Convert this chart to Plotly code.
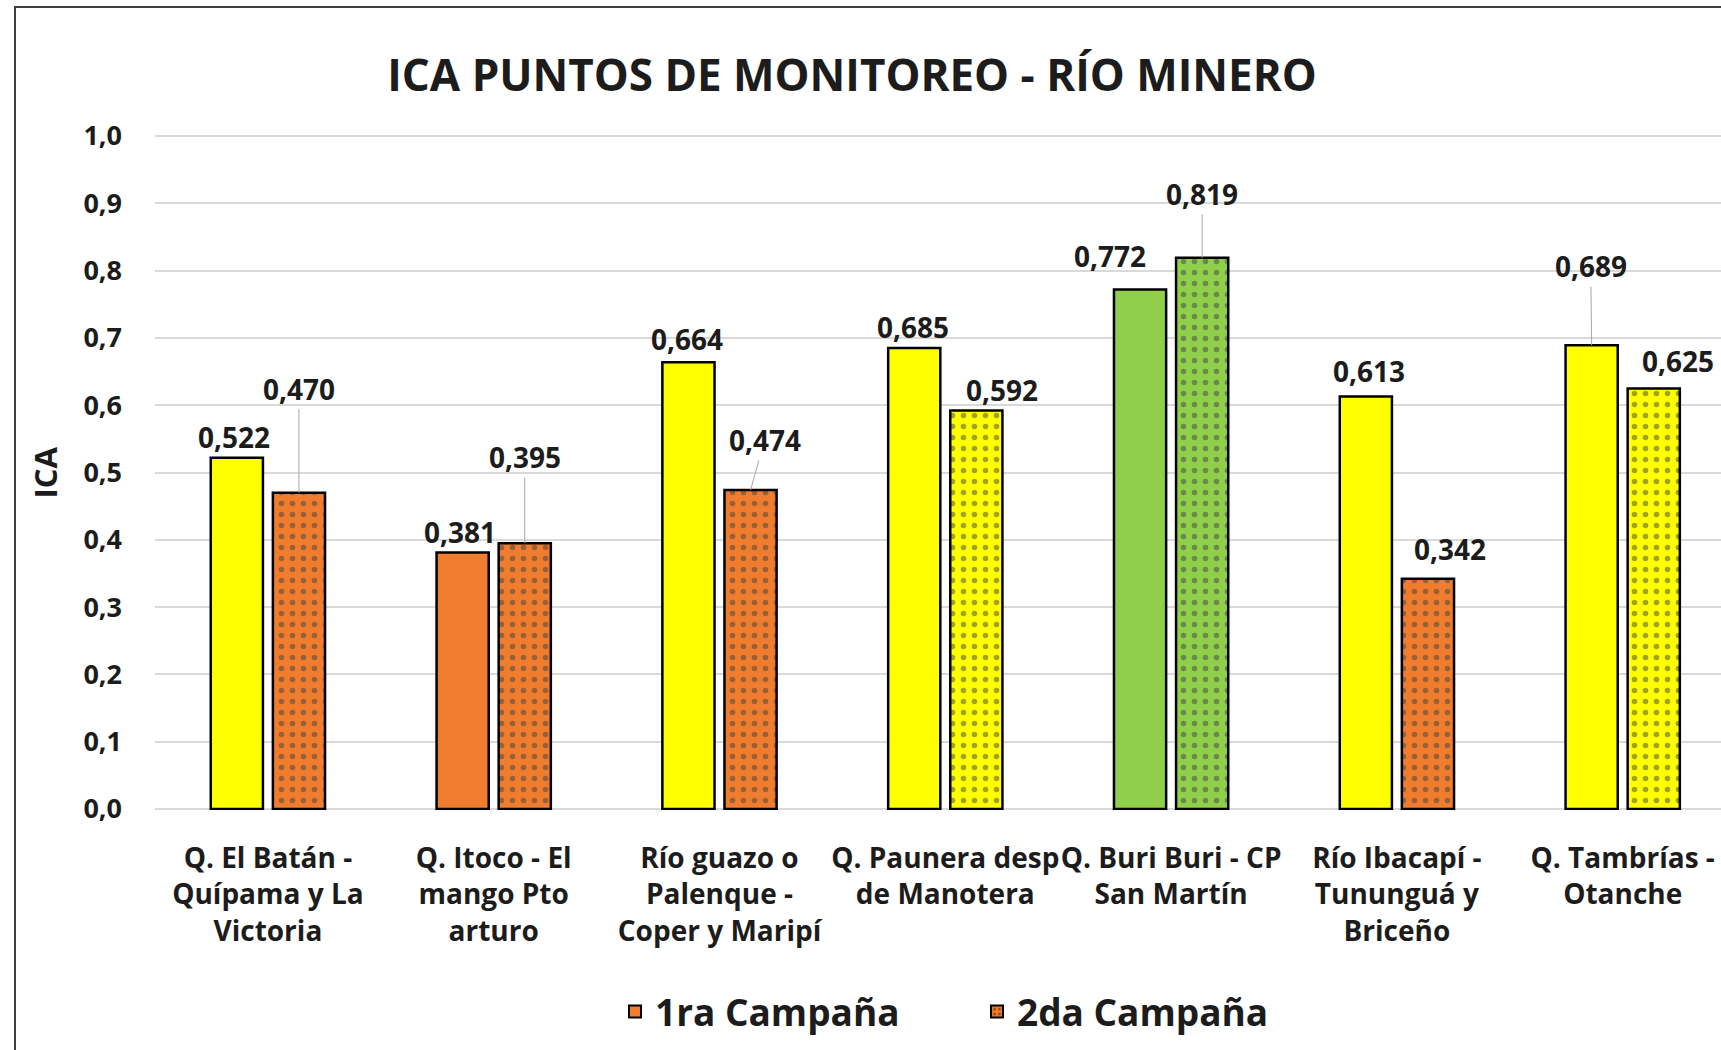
import plotly.graph_objects as go

# ---------------- data ----------------
categories = [
    "Q. El Batán -<br>Quípama y La<br>Victoria",
    "Q. Itoco - El<br>mango Pto<br>arturo",
    "Río guazo o<br>Palenque -<br>Coper y Maripí",
    "Q. Paunera desp<br>de Manotera",
    "Q. Buri Buri - CP<br>San Martín",
    "Río Ibacapí -<br>Tununguá y<br>Briceño",
    "Q. Tambrías -<br>Otanche",
]
series_names = ["1ra Campaña", "2da Campaña"]
campana1 = [0.522, 0.381, 0.664, 0.685, 0.772, 0.613, 0.689]
campana2 = [0.470, 0.395, 0.474, 0.592, 0.819, 0.342, 0.625]
y_ticks = [0.0, 0.1, 0.2, 0.3, 0.4, 0.5, 0.6, 0.7, 0.8, 0.9, 1.0]

YEL = "#FFFF00"
ORA = "#EF7D2D"
GRN = "#8FCF4A"
colors1 = [YEL, ORA, YEL, YEL, GRN, YEL, YEL]
colors2 = [ORA, ORA, ORA, YEL, GRN, ORA, YEL]
dots2 = ["#3a1800", "#3a1800", "#3a1800", "#3d3d00", "#1d4a12", "#3a1800", "#3d3d00"]

# label offsets (pixels) relative to bar top: (dx, dy, leader)
lab1 = [(-3, -21, False), (-3, -21, False), (-1, -23, False), (-1, -21, False),
        (-30, -33, False), (3, -25, False), (-1, -79, True)]
lab2 = [(0, -104, True), (0, -86, True), (14, -50, True), (26, -21, False),
        (0, -64, True), (22, -30, False), (24, -27, False)]

# ---------------- layout constants ----------------
W, H = 1721, 1050
ML, MR, MT, MB = 155, 0, 135, 240
PW, PH = W - ML - MR, H - MT - MB
BARGAP = 0.45
FONT = "Open Sans"
TXT = "#1c1c1c"

def px_to_paper_x(px):
    return (px - ML) / PW

def px_to_paper_y(py):
    return (H - MB - py) / PH

fig = go.Figure()
fig.add_trace(go.Bar(
    x=categories, y=campana1, name=series_names[0], showlegend=False,
    marker=dict(color=colors1, line=dict(color="#000000", width=2.5)),
))
fig.add_trace(go.Bar(
    x=categories, y=campana2, name=series_names[1], showlegend=False,
    marker=dict(color=colors2, line=dict(color="#000000", width=2.5),
                pattern=dict(shape=".", fgcolor=dots2, size=11, solidity=0.2)),
))

# legend-only entries (on a hidden overlay axis so they don't affect grouping)
fig.add_trace(go.Bar(
    x=[None], y=[None], name=series_names[0], xaxis="x2", yaxis="y2",
    marker=dict(color=ORA, line=dict(color="#000000", width=2)),
))
fig.add_trace(go.Bar(
    x=[None], y=[None], name=series_names[1], xaxis="x2", yaxis="y2",
    marker=dict(color=ORA, line=dict(color="#000000", width=2),
                pattern=dict(shape=".", fgcolor="#3a1800", size=6, solidity=0.3)),
))

# data labels
annotations = []
off = (1 - BARGAP) / 4
for vals, labs, shift in ((campana1, lab1, -off), (campana2, lab2, off)):
    for i, (v, (dx, dy, leader)) in enumerate(zip(vals, labs)):
        txt = f"{v:.3f}".replace(".", ",")
        if leader:
            annotations.append(dict(
                x=i + shift, y=v, xref="x", yref="y", text=txt,
                showarrow=True, ax=dx, ay=dy, arrowhead=0, arrowwidth=1,
                arrowcolor="#a6a6a6", standoff=0, startstandoff=0,
                font=dict(family=FONT, size=28, color=TXT, weight="bold"),
            ))
        else:
            annotations.append(dict(
                x=i + shift, y=v, xref="x", yref="y", text=txt,
                showarrow=False, xshift=dx, yshift=-dy, yanchor="middle",
                font=dict(family=FONT, size=28, color=TXT, weight="bold"),
            ))

# y-axis title
annotations.append(dict(
    x=px_to_paper_x(44), y=0.5, xref="paper", yref="paper", text="ICA",
    textangle=-90, showarrow=False, xanchor="center", yanchor="middle",
    font=dict(family=FONT, size=31, color=TXT, weight="bold"),
))

# outer chart border (right/bottom edges lie outside the picture)
shapes = [dict(
    type="rect", xref="paper", yref="paper",
    x0=px_to_paper_x(15), x1=px_to_paper_x(W + 40),
    y0=px_to_paper_y(H + 40), y1=px_to_paper_y(7),
    line=dict(color="#3f3f3f", width=2), fillcolor="rgba(0,0,0,0)", layer="below",
)]

fig.update_layout(
    width=W, height=H, autosize=False,
    margin=dict(l=ML, r=MR, t=MT, b=MB, pad=0, autoexpand=False),
    paper_bgcolor="#ffffff", plot_bgcolor="#ffffff",
    separators=",.",
    barmode="group", bargap=BARGAP, bargroupgap=0.16,
    title=dict(
        text="ICA PUNTOS DE MONITOREO - RÍO MINERO",
        x=px_to_paper_x(852), xref="paper", xanchor="center",
        y=1 - 76 / H, yref="container", yanchor="middle",
        font=dict(family=FONT, size=44, color=TXT, weight="bold"),
    ),
    xaxis=dict(
        type="category", range=[-0.5, -0.5 + PW / 225.8],
        showgrid=False, zeroline=False, showline=False, ticks="",
        tickangle=0, automargin=False,
        ticklabelstandoff=29,
        tickfont=dict(family=FONT, size=28, color=TXT, weight="bold"),
    ),
    yaxis=dict(
        range=[-0.0015, 1.0015], tickvals=y_ticks, tickformat=".1f",
        showgrid=True, gridcolor="#d9d9d9", gridwidth=2,
        zeroline=False, showline=False, ticks="", automargin=False,
        ticklabelstandoff=32,
        tickfont=dict(family=FONT, size=27, color=TXT, weight="bold"),
    ),
    xaxis2=dict(overlaying="x", visible=False, range=[0, 1]),
    yaxis2=dict(overlaying="y", visible=False, range=[0, 1]),
    legend=dict(
        orientation="h", x=px_to_paper_x(977), xanchor="center",
        y=px_to_paper_y(1012), yanchor="middle",
        font=dict(family=FONT, size=37, color=TXT, weight="bold"),
        bgcolor="rgba(0,0,0,0)", entrywidth=317, itemwidth=30,
    ),
    annotations=annotations,
    shapes=shapes,
)

# remove the browser's default 8px body margin so the figure fills the window
fig.write_html(
    "out.html",
    config={"displayModeBar": False},
    post_script="document.body.style.margin='0px';",
)
